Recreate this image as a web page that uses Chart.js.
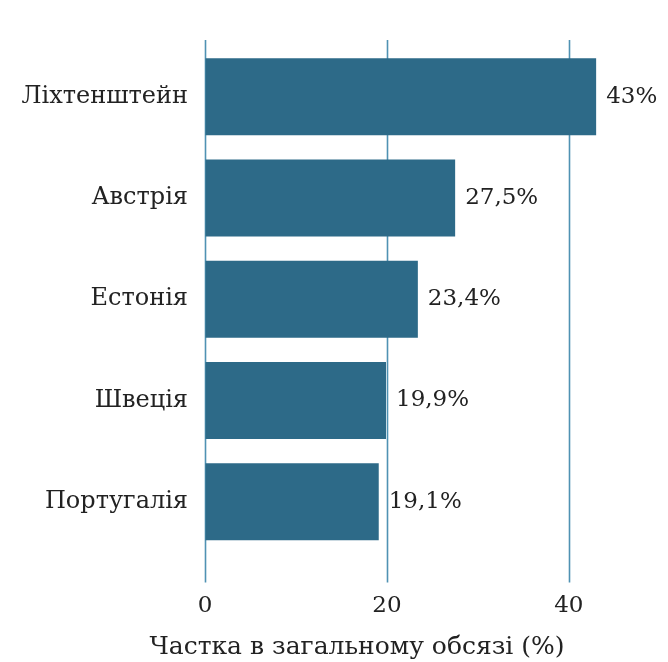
<!DOCTYPE html>
<html>
<head>
<meta charset="utf-8">
<script src="https://cdn.jsdelivr.net/npm/chart.js@4"></script>
<style>
  html, body { margin: 0; padding: 0; background: #fff; }
  #wrap { width: 668px; height: 662px; }
</style>
</head>
<body>
<div id="wrap"><canvas id="myChart"></canvas></div>
<script>
const countries = ['Ліхтенштейн', 'Австрія', 'Естонія', 'Швеція', 'Португалія'];
const shares = [43, 27.5, 23.4, 19.9, 19.1];
const shareLabels = ['43%', '27,5%', '23,4%', '19,9%', '19,1%'];
const xTicks = [0, 20, 40];
const axisTitle = 'Частка в загальному обсязі (%)';

const serif = 'DejaVu Serif';
const barColor = '#2d6a88';
const gridColor = '#4f92b3';

// vertical grid lines, a bit longer than the plot area
const gridPlugin = {
    id: 'longGrid',
    beforeDatasetsDraw: function(chart) {
        const ctx = chart.ctx;
        const xs = chart.scales.x;
        const area = chart.chartArea;
        ctx.save();
        ctx.strokeStyle = gridColor;
        ctx.lineWidth = 1.6;
        xTicks.forEach(function(v) {
            const x = Math.round(xs.getPixelForValue(v)) + 0.5;
            ctx.beginPath();
            ctx.moveTo(x, area.top - 6);
            ctx.lineTo(x, area.bottom + 30);
            ctx.stroke();
        });
        ctx.restore();
    }
};

// value labels to the right of each bar
const valuePlugin = {
    id: 'valueLabels',
    afterDatasetsDraw: function(chart) {
        const ctx = chart.ctx;
        const meta = chart.getDatasetMeta(0);
        ctx.save();
        ctx.font = '23px "' + serif + '"';
        ctx.fillStyle = '#222';
        ctx.textBaseline = 'middle';
        ctx.textAlign = 'left';
        meta.data.forEach(function(bar, i) {
            ctx.fillText(shareLabels[i], bar.x + 10, bar.y);
        });
        ctx.restore();
    }
};

new Chart(document.getElementById('myChart'), {
    type: 'bar',
    data: {
        labels: countries,
        datasets: [{
            data: shares,
            backgroundColor: barColor,
            borderWidth: 0,
            barPercentage: 0.76,
            categoryPercentage: 1
        }]
    },
    options: {
        indexAxis: 'y',
        responsive: true,
        maintainAspectRatio: false,
        animation: false,
        // negative right padding shifts the centred bottom title like in the original
        layout: { padding: { top: 46, left: 10, right: -36, bottom: 0 } },
        plugins: {
            legend: { display: false },
            tooltip: { enabled: false },
            title: {
                display: true,
                position: 'bottom',
                text: axisTitle,
                color: '#222',
                font: { family: serif, size: 25, weight: 'normal' },
                padding: { top: 2, bottom: 0 }
            }
        },
        scales: {
            x: {
                min: 0,
                max: 50.9,
                afterBuildTicks: function(scale) {
                    scale.ticks = xTicks.map(function(v) { return { value: v }; });
                },
                // transparent ticks only reserve the gap under the plot
                grid: { display: true, drawOnChartArea: false, color: 'rgba(0,0,0,0)', tickLength: 30 },
                border: { display: false },
                ticks: {
                    color: '#222',
                    padding: 10,
                    font: { family: serif, size: 23 }
                }
            },
            y: {
                afterFit: function(scale) { scale.width = 195; },
                grid: { display: false, drawTicks: false },
                border: { display: false },
                ticks: {
                    color: '#222',
                    padding: 17,
                    font: { family: serif, size: 24 }
                }
            }
        }
    },
    plugins: [gridPlugin, valuePlugin]
});
</script>
</body>
</html>
